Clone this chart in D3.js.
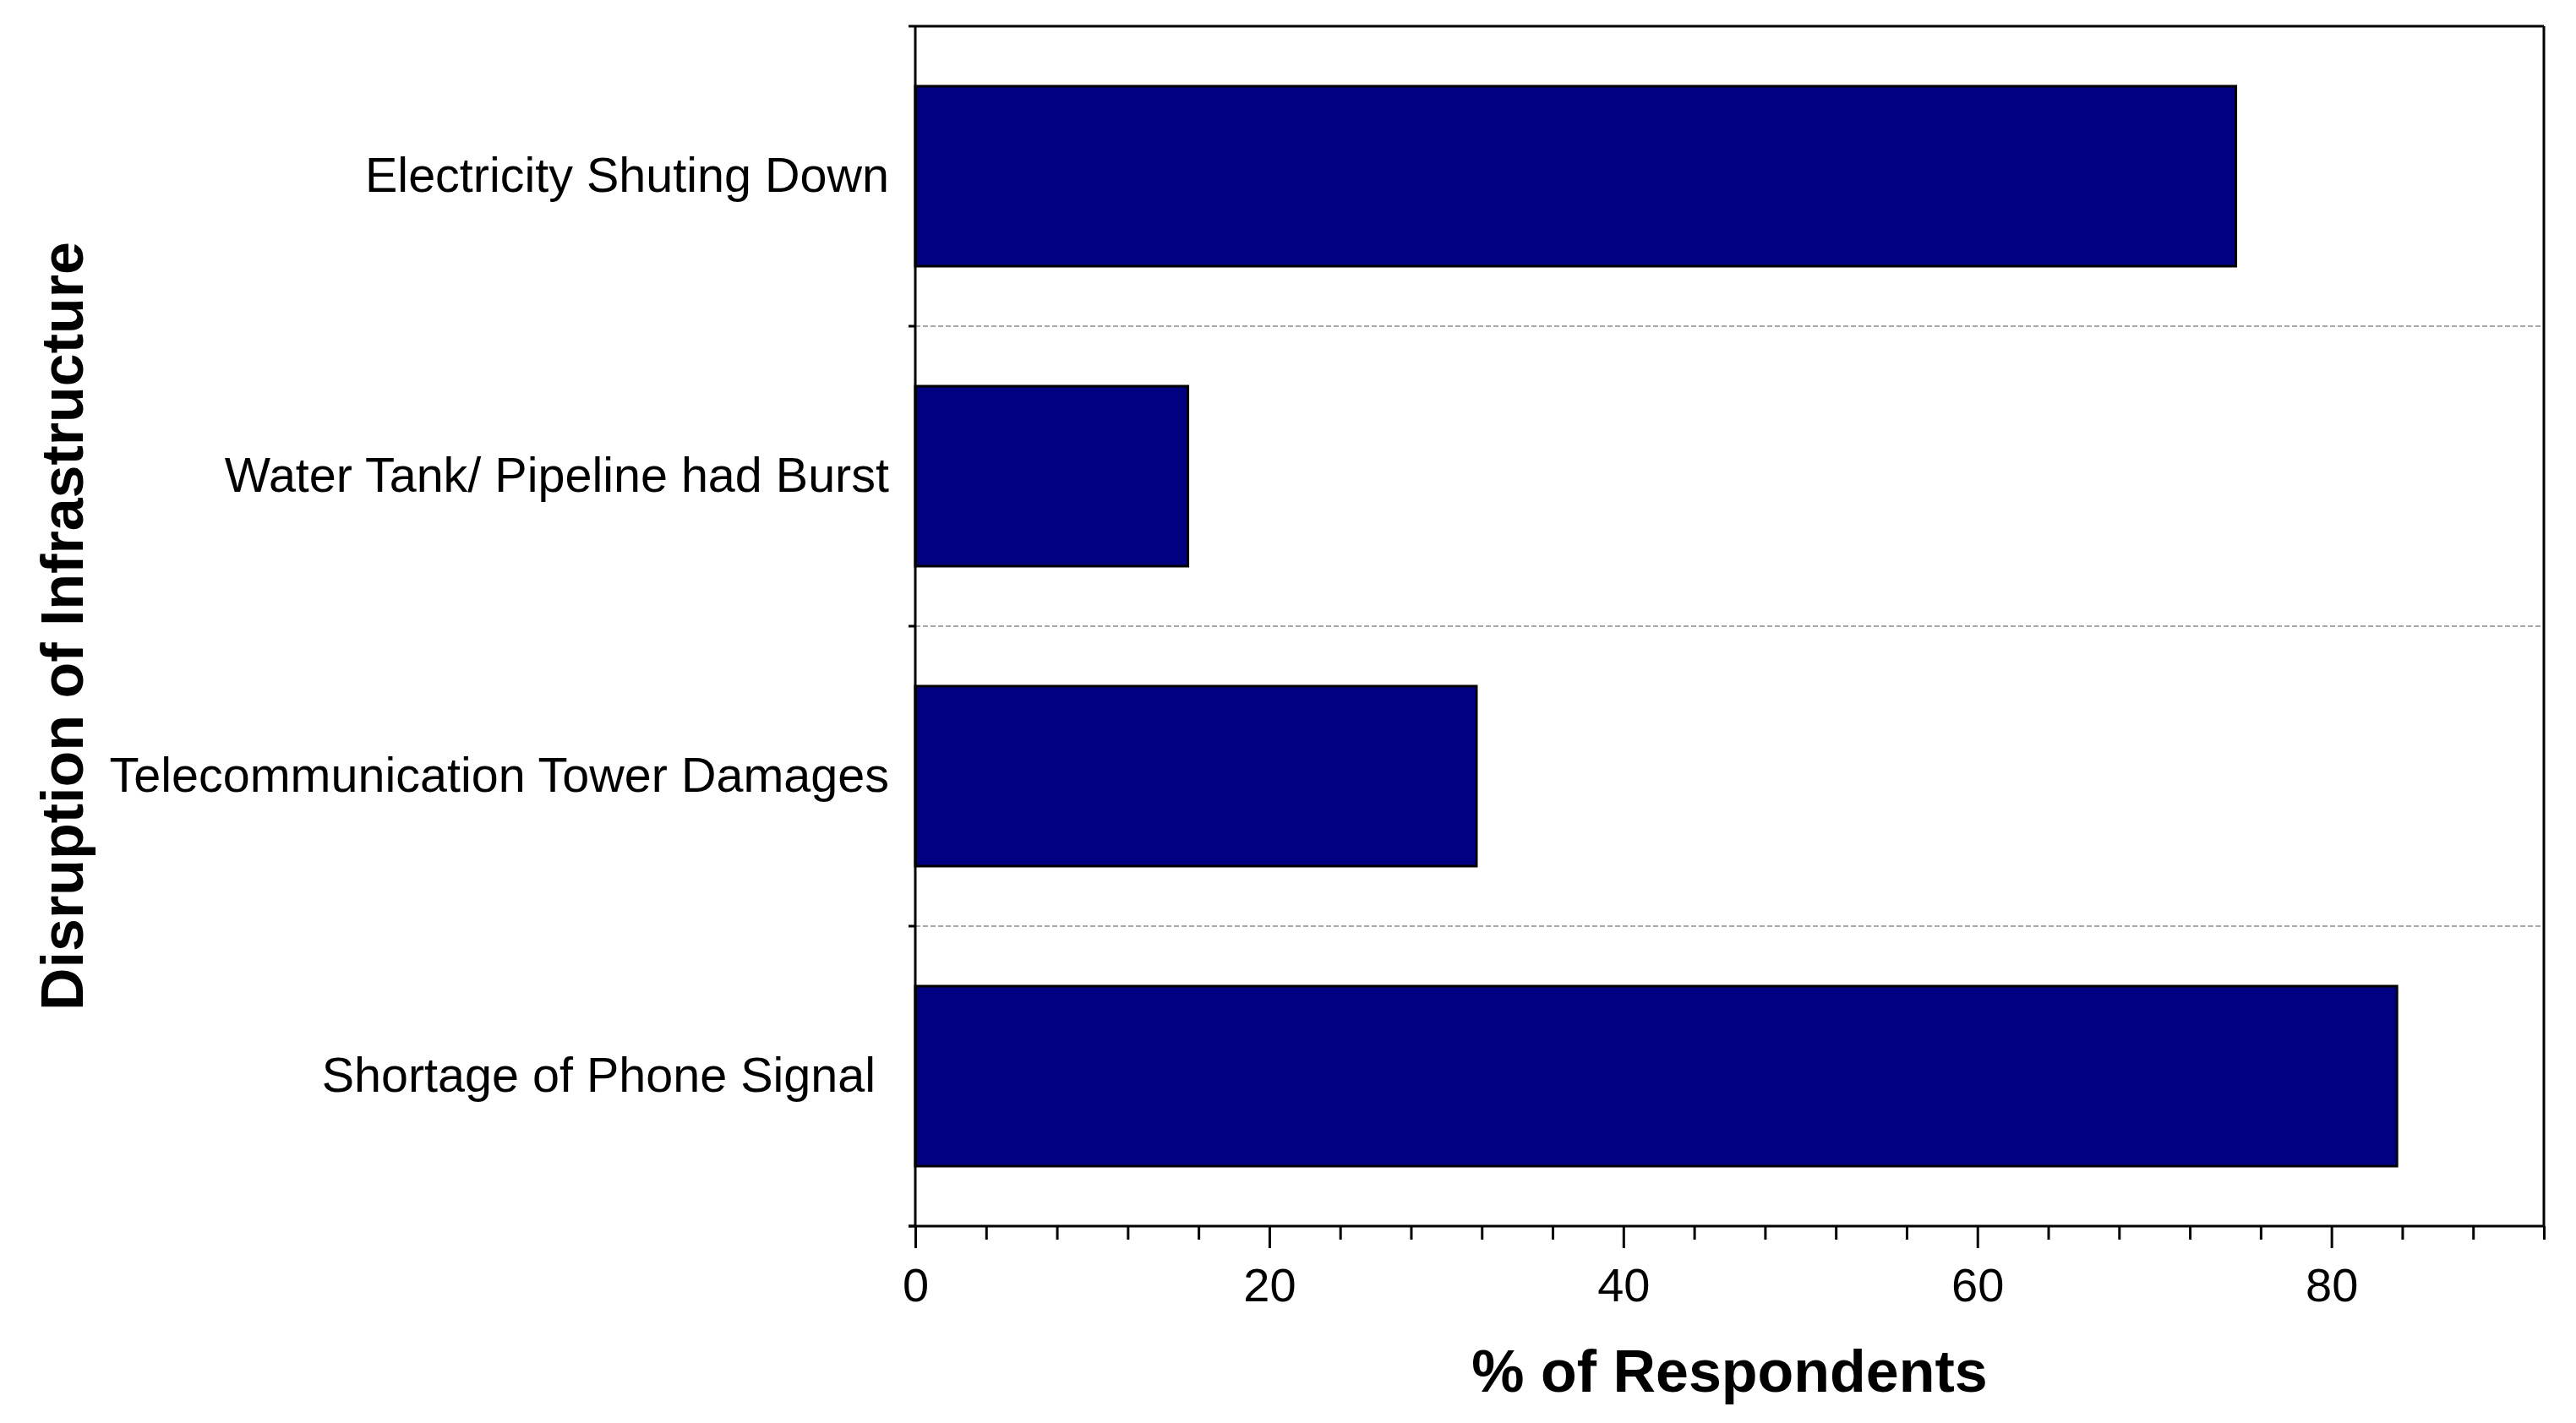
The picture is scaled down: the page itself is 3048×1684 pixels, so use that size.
<!DOCTYPE html>
<meta charset="utf-8">

<style>
body { margin: 0; background: #fff; }
text { font-family: "Liberation Sans", Arial, sans-serif; fill: #000; }
.cat text { font-size: 57.5px; white-space: pre; }
.x.axis text { font-size: 56px; }
.axis path, .axis line { stroke: #000; stroke-width: 3px; }
.grid { stroke: #a8a8a8; stroke-width: 2px; stroke-dasharray: 6,3; }
.title { font-size: 70px; font-weight: bold; }
</style>

<!-- Load d3.js -->
<script src="https://d3js.org/d3.v7.min.js"></script>

<div id="my_dataviz"></div>

<script>

// data
var categories = ["Electricity Shuting Down", "Water Tank/ Pipeline had Burst",
                  "Telecommunication Tower Damages", "Shortage of Phone Signal "];
var values = [74.6, 15.4, 31.7, 83.7];
var xTicks = [0, 20, 40, 60, 80];
var xMax = 92;

// set the dimensions and margins of the graph
var margin = {top: 31, right: 38, bottom: 233, left: 1083},
    width = 3048 - margin.left - margin.right,
    height = 1684 - margin.top - margin.bottom;

var x = d3.scaleLinear().domain([0, xMax]).range([0, width]);
var y = d3.scaleBand().domain(categories).range([0, height])
    .paddingInner(0.4).paddingOuter(0.2);

var svg = d3.select("#my_dataviz")
    .append("svg")
    .attr("width", width + margin.left + margin.right)
    .attr("height", height + margin.top + margin.bottom)
    .append("g")
    .attr("transform", "translate(" + margin.left + "," + margin.top + ")");

// category boundaries (ticks + dashed grid lines)
var bounds = categories.map(function(d) { return y(d) - y.step() * y.paddingInner() / 2; });
bounds.push(height);
bounds[0] = 0;

svg.selectAll(".grid")
    .data(bounds.slice(1, -1))
    .enter().append("line")
    .attr("class", "grid")
    .attr("x1", 0).attr("x2", width)
    .attr("y1", function(d) { return d; })
    .attr("y2", function(d) { return d; });

// bars
svg.selectAll(".bar")
    .data(values)
    .enter().append("rect")
    .attr("class", "bar")
    .attr("x", 0)
    .attr("y", function(d, i) { return y(categories[i]); })
    .attr("width", function(d) { return x(d); })
    .attr("height", y.bandwidth())
    .attr("fill", "#000080")
    .attr("stroke", "#000")
    .attr("stroke-width", 3);

// frame: top and right
svg.append("line").attr("x1", 0).attr("x2", width).attr("y1", 0).attr("y2", 0)
    .attr("stroke", "#000").attr("stroke-width", 3);
svg.append("line").attr("x1", width).attr("x2", width).attr("y1", 0).attr("y2", height)
    .attr("stroke", "#000").attr("stroke-width", 3);

// y ticks at boundaries
svg.selectAll(".ytick")
    .data(bounds)
    .enter().append("line")
    .attr("x1", -8).attr("x2", 0)
    .attr("y1", function(d) { return d; })
    .attr("y2", function(d) { return d; })
    .attr("stroke", "#000").attr("stroke-width", 3);

// left axis line
svg.append("line").attr("x1", 0).attr("x2", 0).attr("y1", 0).attr("y2", height)
    .attr("stroke", "#000").attr("stroke-width", 3);

// category labels
svg.append("g")
    .attr("class", "cat")
    .call(d3.axisLeft(y).tickSize(0).tickPadding(31))
    .call(function(g) { g.select(".domain").remove(); });

// x axis: minor then major
var minor = d3.range(0, xMax + 1, 4).filter(function(d) { return d % 20 != 0; });
svg.append("g")
    .attr("class", "x axis")
    .attr("transform", "translate(0," + height + ")")
    .call(d3.axisBottom(x).tickValues(minor).tickSize(16).tickFormat("").tickSizeOuter(0))
    .call(function(g) { g.select(".domain").attr("d", "M-8,0H" + width); });

svg.append("g")
    .attr("class", "x axis")
    .attr("transform", "translate(0," + height + ")")
    .call(d3.axisBottom(x).tickValues(xTicks).tickSize(26).tickPadding(23))
    .call(function(g) { g.select(".domain").remove(); });

// axis titles
svg.append("text")
    .attr("class", "title")
    .attr("x", width / 2)
    .attr("y", height + 196)
    .attr("text-anchor", "middle")
    .text("% of Respondents");

svg.append("text")
    .attr("class", "title")
    .attr("transform", "translate(" + (98 - margin.left) + "," + (height / 2) + ") rotate(-90)")
    .attr("text-anchor", "middle")
    .text("Disruption of Infrastructure");

</script>
